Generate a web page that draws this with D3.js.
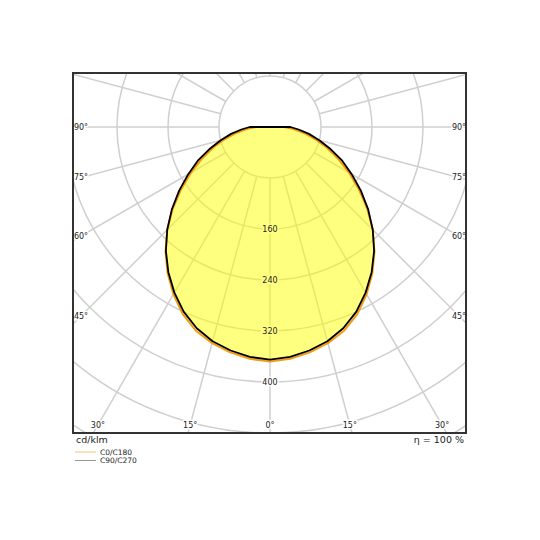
<!DOCTYPE html>
<html><head><meta charset="utf-8">
<script src="https://cdn.jsdelivr.net/npm/d3@7"></script>
<style>body{margin:0;background:#fff}svg{display:block}text{font-family:"DejaVu Sans",sans-serif}</style>
</head><body>
<script>
// Data (cd/klm) at gamma angles 0..90 step 5
const angles = [0,5,10,15,20,25,30,35,40,45,50,55,60,65,70,75,80,85,90];
const c0c180 = [368,365,359,351,340,324,303,280,255,228,199,170,143,118,95,73,54,37,22];
const c90c270 = [365,362,356,348,336,320,300,278,254,228,201,174,148,125,101,80,62,45,32];
const ringValues = [80,160,240,320,400,480,560];
const ringLabels = [160,240,320,400];
const angleLabelsSide = [90,75,60,45];
const angleLabelsBottom = [-30,-15,0,15,30];
const seriesNames = ["C0/C180","C90/C270"];
const unitLabel = "cd/klm";
const effLabel = "η = 100 %";

const W = 540, H = 540;
const box = {x0:73, y0:73, x1:466, y1:433};
const cx = 270, cy = 127;
const r = d3.scaleLinear().domain([0,80]).range([0,51]);
const toRad = a => (180 - a) * Math.PI / 180; // gamma from nadir -> d3 radial angle

const svg = d3.select("body").append("svg").attr("width",W).attr("height",H);
svg.append("defs").append("clipPath").attr("id","clip")
  .append("rect").attr("x",box.x0).attr("y",box.y0).attr("width",box.x1-box.x0).attr("height",box.y1-box.y0);

const grid = svg.append("g").attr("clip-path","url(#clip)")
  .append("g").attr("transform",`translate(${cx},${cy})`);
grid.selectAll("circle").data(ringValues).join("circle")
  .attr("r",d=>r(d)).attr("fill","none").attr("stroke","#cfcfcf").attr("stroke-width",1.5);
const spokes = d3.range(0,360,15);
grid.selectAll("line").data(spokes).join("line")
  .attr("x1",d=>r(80)*Math.sin(toRad(d))).attr("y1",d=>-r(80)*Math.cos(toRad(d)))
  .attr("x2",d=>r(800)*Math.sin(toRad(d))).attr("y2",d=>-r(800)*Math.cos(toRad(d)))
  .attr("stroke","#cfcfcf").attr("stroke-width",1.5);

// label positions
const labels = ringLabels.map(d=>({x:cx, y:cy+r(d), t:String(d)}));
const lx = 81, rx = 459, by = 425;
angleLabelsSide.forEach(a=>{
  const t = a*Math.PI/180;
  const dy = (cx - lx)/Math.tan(t);
  labels.push({x:lx, y:cy+dy, t:a+"°"});
  labels.push({x:rx, y:cy+dy, t:a+"°"});
});
angleLabelsBottom.forEach(a=>{
  const t = a*Math.PI/180;
  labels.push({x:cx+(by-cy)*Math.tan(t), y:by, t:Math.abs(a)+"°"});
});
function drawLabels(halo){
  svg.append("g").attr("font-size",8).attr("text-anchor","middle").attr("dominant-baseline","central")
    .selectAll("text").data(labels).join("text")
    .attr("x",d=>d.x).attr("y",d=>d.y).text(d=>d.t)
    .attr("fill",halo?"#fff":"#222")
    .attr("stroke",halo?"#fff":"none").attr("stroke-width",halo?3:0);
}
drawLabels(true);

// curves
function pts(vals){
  const left = angles.map((a,i)=>[toRad(-a), r(vals[i])]).reverse();
  const right = angles.slice(1).map((a,i)=>[toRad(a), r(vals[i+1])]);
  return left.concat(right).concat([[0,0]]);
}
const line = d3.lineRadial().angle(d=>d[0]).radius(d=>d[1]).curve(d3.curveLinearClosed);
const g = svg.append("g").attr("transform",`translate(${cx},${cy})`);
g.append("path").attr("d",line(pts(c90c270))).attr("fill","#ffff00").attr("fill-opacity",0.5).attr("stroke","none");
drawLabels(false);
g.append("path").attr("d",line(pts(c0c180))).attr("fill","none").attr("stroke","#f39c12").attr("stroke-width",2).attr("stroke-linejoin","round");
g.append("path").attr("d",line(pts(c90c270))).attr("fill","none").attr("stroke","#000").attr("stroke-width",1.8).attr("stroke-linejoin","round");

// frame
svg.append("rect").attr("x",box.x0).attr("y",box.y0).attr("width",box.x1-box.x0).attr("height",box.y1-box.y0)
  .attr("fill","none").attr("stroke","#333").attr("stroke-width",2);

svg.append("text").attr("x",76).attr("y",443).attr("font-size",9.5).attr("fill","#222").text(unitLabel);
svg.append("text").attr("x",464).attr("y",443).attr("font-size",9.5).attr("fill","#222").attr("text-anchor","end").text(effLabel);
const legColors = ["#f8c471","#999"];
seriesNames.forEach((n,i)=>{
  const y = 452 + i*8.5;
  svg.append("line").attr("x1",75).attr("x2",96).attr("y1",y).attr("y2",y).attr("stroke",legColors[i]).attr("stroke-width",1);
  svg.append("text").attr("x",100).attr("y",y).attr("dominant-baseline","central").attr("font-size",7.5).attr("fill","#222").text(n);
});
</script>
</body></html>
